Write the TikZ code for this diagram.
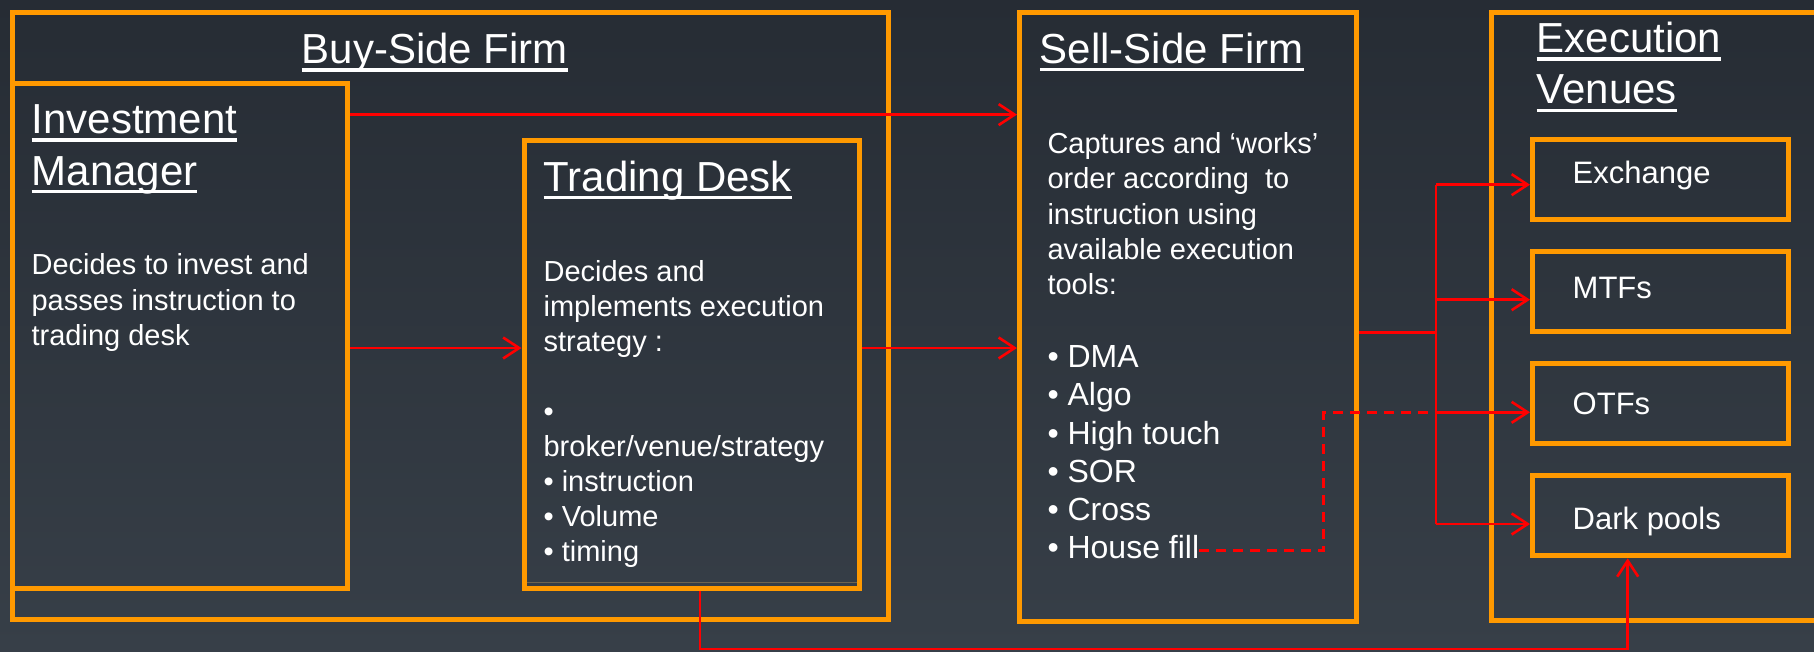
\documentclass[tikz,border=0pt]{standalone}
\usepackage{fontspec}
\setmainfont{Liberation Sans}
\usetikzlibrary{arrows.meta}
\definecolor{bgtop}{HTML}{262C34}
\definecolor{bgmid}{HTML}{29303A}
\definecolor{bgbot}{HTML}{373F48}
\definecolor{orng}{HTML}{FF9900}
\definecolor{rd}{HTML}{FF0000}
\definecolor{seam}{HTML}{6E6450}
\newsavebox\ulbox
\newcommand\ulx[1]{\sbox\ulbox{#1}\rlap{\rule[-8.2pt]{\wd\ulbox}{3.2pt}}\usebox\ulbox}
\newcommand\lns[2]{\vtop{\baselineskip=#1\lineskiplimit=-100pt\lineskip=0pt #2}}
\begin{document}
\begin{tikzpicture}[x=1pt,y=-1pt,
  frame/.style={draw=orng,line width=5pt,inner sep=0pt,rectangle},
  txt/.style={text=white,inner sep=0pt,outer sep=0pt,anchor=base west},
  ttl/.style={txt,font=\fontsize{42}{50}\selectfont},
  body/.style={txt,font=\fontsize{29}{35}\selectfont},
  lst/.style={txt,font=\fontsize{32}{38}\selectfont},
  venue/.style={txt,font=\fontsize{31}{37}\selectfont},
  link/.style={draw=rd,line width=2.6pt},
  arr/.style={link,-{Straight Barb[length=16pt,width=21pt]}},
  dash link/.style={link,dash pattern=on 10pt off 7pt},
]
\useasboundingbox (0,0) rectangle (1814,651);
\clip (0,0) rectangle (1814,651);
\shade[top color=bgtop, middle color=bgmid, bottom color=bgbot] (0,0) rectangle (1814,651);

% frames
\node[frame,minimum width=875.5pt,minimum height=607pt] (buy) at (450.25,316) {};
\node[frame,minimum width=335pt,minimum height=505pt] (im) at (180,336) {};
\node[frame,minimum width=335.5pt,minimum height=448.2pt] (td) at (691.75,364.1) {};
\draw[seam,line width=1.5pt] ([shift={(5.5,-8)}]td.south west) -- ([shift={(-5,-8)}]td.south east);
\node[frame,minimum width=337pt,minimum height=608.5pt] (ss) at (1188,316.75) {};
\node[frame,minimum width=338.5pt,minimum height=608pt] (ev) at (1660.75,316.5) {};
\node[frame,minimum width=255.5pt,minimum height=80pt] (exch) at (1660.25,179.8) {};
\node[frame,minimum width=255.5pt,minimum height=80pt] (mtf) at (1660.25,291.8) {};
\node[frame,minimum width=255.5pt,minimum height=80pt] (otf) at (1660.25,403.8) {};
\node[frame,minimum width=255.5pt,minimum height=80pt] (dark) at (1660.25,515.8) {};

% texts
\node[ttl] (tbuy) at (301.7,63.3) {\ulx{Buy-Side Firm}};
\node[ttl] (tim) at (31.7,133.3) {\lns{51.7pt}{\hbox{\ulx{Investment}}\hbox{\ulx{Manager}}}};
\node[body] (bim) at (31.6,274.8) {\lns{35.3pt}{\hbox{Decides to invest and}\hbox{passes instruction to}\hbox{trading desk}}};
\node[ttl] (ttd) at (543.6,191) {\ulx{Trading Desk}};
\node[body] (btd) at (543.6,281) {\lns{35pt}{\hbox{Decides and}\hbox{implements execution}\hbox{strategy :}\hbox{}\hbox{•}\hbox{broker/venue/strategy}\hbox{• instruction}\hbox{• Volume}\hbox{• timing}}};
\node[ttl] (tss) at (1039.9,63) {\ulx{Sell-Side Firm}};
\node[body] (bss) at (1047.5,153.6) {\lns{35.3pt}{\hbox{Captures and ‘works’}\hbox{order according\ \ to}\hbox{instruction using}\hbox{available execution}\hbox{tools:}}};
\node[lst] (lss) at (1047.5,367.4) {\lns{38.3pt}{\hbox{• DMA}\hbox{• Algo}\hbox{• High touch}\hbox{• SOR}\hbox{• Cross}\hbox{• House fill}}};
\node[ttl] (tev) at (1536.7,52.3) {\lns{51.5pt}{\hbox{\ulx{Execution}}\hbox{\ulx{Venues}}}};
\node[venue] (lexch) at (1572.7,183.3) {Exchange};
\node[venue] (lmtf) at (1572.7,298) {MTFs};
\node[venue] (lotf) at (1572.7,414.3) {OTFs};
\node[venue] (ldark) at (1572.7,529.3) {Dark pools};

% connectors
\coordinate (busA) at (1436,184.7);
\coordinate (busB) at (1436,524);
\coordinate (hf) at (1199,550.7);
\draw[arr] (im.east |- 0,114.6) -- (ss.west |- 0,114.6);
\draw[arr] (im.east |- 0,348) -- (td.west |- 0,348);
\draw[arr] (td.east |- 0,348) -- (ss.west |- 0,348);
\draw[link] (ss.east |- 0,332.3) -- (busA |- 0,332.3);
\draw[link] (busA) -- (busB);
\draw[arr] (busA) -- (exch.west |- busA);
\draw[arr] (busA |- 0,299.7) -- (mtf.west |- 0,299.7);
\draw[arr] (busA |- 0,412.3) -- (otf.west |- 0,412.3);
\draw[arr] (busB) -- (dark.west |- busB);
\draw[dash link] (hf) -- (1323.3,550.7) -- (1323.3,412.3) -- (busA |- 0,412.3);
\draw[arr] (td.south -| 700,0) -- (700,649) -- (1627.7,649) -- (dark.south -| 1627.7,0);
\end{tikzpicture}
\end{document}
